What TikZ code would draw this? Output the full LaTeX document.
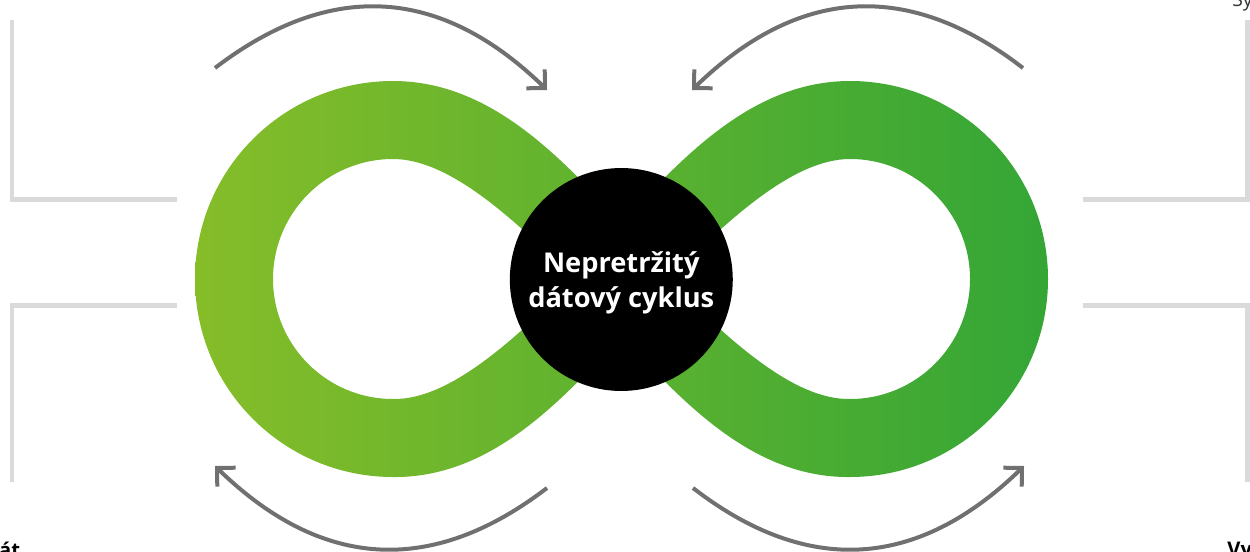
\documentclass[tikz,border=0pt]{standalone}
\usepackage{fontspec}
\setmainfont{Open Sans}
\usepackage{xcolor}
\usepackage{tikz}
\usetikzlibrary{arrows.meta}

\definecolor{loopleft}{RGB}{134,189,41}
\definecolor{loopright}{RGB}{52,166,54}
\definecolor{arrowgray}{RGB}{112,112,112}
\definecolor{railgray}{RGB}{218,218,218}

\begin{document}
\begin{tikzpicture}[x=0.02cm, y=-0.02cm,
    rail/.style={draw=railgray, line width=0.1cm},
    cyclearrow/.style={draw=arrowgray, line width=0.08cm, -{Straight Barb[length=7.5pt, width=15pt, sharp]}},
    heading/.style={inner sep=0, font=\bfseries\fontsize{11.5}{14}\selectfont}]

    \useasboundingbox (0,0) rectangle (1250,551);

    % side rails
    \draw[rail] (12,20) |- (177,199);
    \draw[rail] (177,305) -| (12,482);
    \draw[rail] (1247,20) |- (1083,199);
    \draw[rail] (1083,305) -| (1247,482);

    % the two loops: outer and inner edges, one shading across both
    \shade[left color=loopleft, right color=loopright, even odd rule]
        (600,200) .. controls (545,142) and (480,81) .. (393,81)
            arc[start angle=270, end angle=90, radius=198]
            .. controls (480,478) and (545,417) .. (600,359) -- (650,279.5) -- cycle
        (575,279.5) .. controls (515,220) and (450,159) .. (393,159)
            arc[start angle=270, end angle=90, radius=120]
            .. controls (450,400) and (515,339) .. (575,279.5) -- cycle
        (643,200) .. controls (698,142) and (763,81) .. (850,81)
            arc[start angle=270, end angle=450, radius=198]
            .. controls (763,478) and (698,417) .. (643,359) -- (593,279.5) -- cycle
        (668,279.5) .. controls (728,220) and (793,159) .. (850,159)
            arc[start angle=270, end angle=450, radius=120]
            .. controls (793,400) and (728,339) .. (668,279.5) -- cycle;

    \node[circle, fill=black, minimum size=4.46cm, inner sep=0] (hub) at (621.3,279.5) {};
    \node[text=white, align=center, inner sep=0,
          font=\bfseries\fontsize{15.5}{20}\selectfont] (hubtext) at (621.3,283) {Nepretržitý\\dátový cyklus};

    % arrows round the loops
    \draw[cyclearrow] (215,68) .. controls (330,-20) and (440,-14) .. (547,90);
    \draw[cyclearrow] (1023,68) .. controls (909,-20) and (799,-14) .. (692,90);
    \draw[cyclearrow] (547,488) .. controls (432,576) and (322,570) .. (215,466);
    \draw[cyclearrow] (693,488) .. controls (807,576) and (917,570) .. (1024,466);

    % cut-off labels at the edges
    \node[heading, anchor=base east] (leftlabel) at (20.5,557) {át};
    \node[heading, anchor=base west] (rightlabel) at (1227,556) {Vy};
    \node[inner sep=0, anchor=base west, text=black!80, font=\fontsize{11}{13}\selectfont] (toplabel) at (1232,7) {Sy};

\end{tikzpicture}
\end{document}
